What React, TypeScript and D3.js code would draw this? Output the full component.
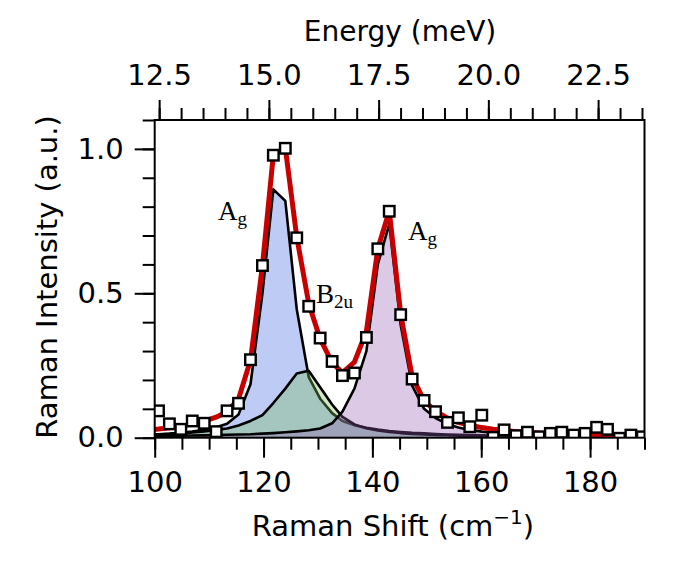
import React, { useRef, useEffect } from "react";
import * as d3 from "d3";

// measured spectrum (squares)
const ramanShift = [
  100.7, 102.7, 104.8, 106.9, 109.1, 111.3, 113.3, 115.4, 117.6, 119.8, 121.8,
  124.0, 126.1, 128.3, 130.4, 132.6, 134.5, 136.7, 138.9, 141.0, 143.1, 145.2,
  147.3, 149.5, 151.6, 153.8, 155.8, 157.9, 160.1, 162.2, 164.2, 166.4, 168.5,
  170.6, 172.7, 174.8, 177.0, 179.1, 181.2, 183.2, 185.4, 187.5, 189.6,
];
const intensity = [
  0.093, 0.048, 0.029, 0.058, 0.05, 0.021, 0.093, 0.119, 0.27, 0.596, 0.978,
  1.002, 0.692, 0.455, 0.345, 0.264, 0.215, 0.224, 0.347, 0.654, 0.784, 0.426,
  0.203, 0.129, 0.09, 0.053, 0.069, 0.038, 0.078, 0.001, 0.027, 0.007, 0.019,
  0.003, 0.015, 0.019, 0.009, 0.015, 0.036, 0.029, -0.002, 0.009, 0.003,
];

// fit grid (starts just left of the frame)
const fitShift = [
  98.6, 100.7, 102.7, 104.8, 106.9, 109.1, 111.3, 113.3, 115.4, 117.6, 119.8,
  121.8, 124.0, 126.1, 128.3, 130.4, 132.6, 134.5, 136.7, 138.9, 141.0, 143.1,
  145.2, 147.3, 149.5, 151.6, 153.8, 155.8, 157.9, 160.1, 162.2, 164.2, 166.4,
  168.5, 170.6, 172.7, 174.8, 177.0, 179.1, 181.2, 183.2, 185.4, 187.5, 189.6,
];
const fitTotal = [
  0.027, 0.03, 0.034, 0.04, 0.047, 0.057, 0.071, 0.09, 0.134, 0.268, 0.596,
  0.98, 1.004, 0.695, 0.465, 0.342, 0.26, 0.225, 0.262, 0.368, 0.655, 0.785,
  0.428, 0.212, 0.128, 0.092, 0.068, 0.053, 0.043, 0.035, 0.029, 0.025, 0.021,
  0.018, 0.016, 0.015, 0.0135, 0.012, 0.011, 0.0105, 0.01, 0.009, 0.0085, 0.008,
];
const fitAg1 = [
  0.011, 0.012, 0.014, 0.017, 0.021, 0.027, 0.036, 0.048, 0.08, 0.185, 0.5,
  0.86, 0.82, 0.445, 0.21, 0.135, 0.085, 0.058, 0.043, 0.034, 0.028, 0.023,
  0.02, 0.017, 0.015, 0.013, 0.011, 0.01, 0.009, 0.008, 0.007, 0.0065, 0.006,
  0.0055, 0.005, 0.0046, 0.0043, 0.004, 0.0037, 0.0035, 0.0033, 0.0031, 0.0029,
  0.0027,
];
const fitB2u = [
  0.01, 0.011, 0.013, 0.015, 0.018, 0.022, 0.027, 0.032, 0.042, 0.058, 0.078,
  0.12, 0.17, 0.222, 0.232, 0.175, 0.115, 0.072, 0.046, 0.033, 0.025, 0.02,
  0.016, 0.013, 0.011, 0.0095, 0.0083, 0.0073, 0.0065, 0.0058, 0.0052, 0.0047,
  0.0043, 0.0039, 0.0036, 0.0033, 0.0031, 0.0029, 0.0027, 0.0025, 0.0023,
  0.0022, 0.0021, 0.002,
];
const fitAg2 = [
  0.0055, 0.006, 0.0065, 0.007, 0.0075, 0.008, 0.009, 0.01, 0.011, 0.012,
  0.014, 0.016, 0.019, 0.022, 0.026, 0.032, 0.05, 0.09, 0.17, 0.3, 0.6, 0.74,
  0.39, 0.18, 0.1, 0.068, 0.047, 0.035, 0.027, 0.021, 0.017, 0.014, 0.012, 0.01,
  0.0085, 0.0074, 0.0065, 0.0058, 0.0052, 0.0047, 0.0043, 0.0039, 0.0036,
  0.0033,
];

const xMajor = [100, 120, 140, 160, 180];
const yMajor = [0, 0.5, 1.0];
const eMajor = [12.5, 15.0, 17.5, 20.0, 22.5];

const CM_PER_MEV = 8.0655;

const App: React.FC = () => {
  const ref = useRef<SVGSVGElement | null>(null);

  useEffect(() => {
    const svg = d3.select(ref.current);
    svg.selectAll("*").remove();

    const left = 154.7,
      right = 644.5,
      top = 120,
      bottom = 437.7;
    const font = "DejaVu Sans, sans-serif";

    const x = d3.scaleLinear().domain([100, 190]).range([left, right]);
    const y = d3.scaleLinear().domain([0, 1.1]).range([bottom, top]);
    const e = d3
      .scaleLinear()
      .domain([100 / CM_PER_MEV, 190 / CM_PER_MEV])
      .range([left, right]);

    svg
      .append("defs")
      .append("clipPath")
      .attr("id", "plot-clip")
      .append("rect")
      .attr("x", left)
      .attr("y", top)
      .attr("width", right - left)
      .attr("height", bottom - top);

    const plot = svg.append("g").attr("clip-path", "url(#plot-clip)");

    const comps = [
      { vals: fitAg1, color: "rgba(65,105,225,0.35)" },
      { vals: fitB2u, color: "rgba(120,190,90,0.35)" },
      { vals: fitAg2, color: "rgba(150,90,180,0.33)" },
    ];

    comps.forEach((c) => {
      const pts = fitShift.map((s, i) => [s, c.vals[i]] as [number, number]);
      const area = d3
        .area<[number, number]>()
        .x((d) => x(d[0]))
        .y0(y(0))
        .y1((d) => y(d[1]));
      const line = d3
        .line<[number, number]>()
        .x((d) => x(d[0]))
        .y((d) => y(d[1]));
      plot.append("path").attr("d", area(pts)).attr("fill", c.color);
      plot
        .append("path")
        .attr("d", line(pts))
        .attr("fill", "none")
        .attr("stroke", "black")
        .attr("stroke-width", 2.6)
        .attr("stroke-linejoin", "round");
    });

    const totalPts = fitShift.map((s, i) => [s, fitTotal[i]] as [number, number]);
    plot
      .append("path")
      .attr(
        "d",
        d3
          .line<[number, number]>()
          .x((d) => x(d[0]))
          .y((d) => y(d[1]))(totalPts)
      )
      .attr("fill", "none")
      .attr("stroke", "#c80000")
      .attr("stroke-width", 5)
      .attr("stroke-linejoin", "round");

    const ms = 10.5;
    plot
      .selectAll("rect.pt")
      .data(ramanShift.map((s, i) => [s, intensity[i]]))
      .enter()
      .append("rect")
      .attr("class", "pt")
      .attr("x", (d) => x(d[0]) - ms / 2)
      .attr("y", (d) => y(d[1]) - ms / 2)
      .attr("width", ms)
      .attr("height", ms)
      .attr("fill", "white")
      .attr("stroke", "black")
      .attr("stroke-width", 2.4);

    // frame
    svg
      .append("rect")
      .attr("x", left)
      .attr("y", top)
      .attr("width", right - left)
      .attr("height", bottom - top)
      .attr("fill", "none")
      .attr("stroke", "black")
      .attr("stroke-width", 2);

    const style = (g: any) => {
      g.select(".domain").remove();
      g.selectAll("line").attr("stroke", "black").attr("stroke-width", 2);
      g.selectAll("text")
        .attr("font-family", font)
        .attr("font-size", 29)
        .attr("fill", "black");
      return g;
    };

    // bottom
    svg
      .append("g")
      .attr("transform", `translate(0,${bottom})`)
      .call(d3.axisBottom(x).tickValues(d3.range(100, 191, 5)).tickSize(12).tickFormat(() => ""))
      .call(style);
    svg
      .append("g")
      .attr("transform", `translate(0,${bottom})`)
      .call(d3.axisBottom(x).tickValues(xMajor).tickSize(20).tickPadding(14).tickFormat(d3.format("d")))
      .call(style);

    // left
    svg
      .append("g")
      .attr("transform", `translate(${left},0)`)
      .call(d3.axisLeft(y).tickValues(d3.range(0, 12).map((v) => v / 10)).tickSize(12).tickFormat(() => ""))
      .call(style);
    svg
      .append("g")
      .attr("transform", `translate(${left},0)`)
      .call(d3.axisLeft(y).tickValues(yMajor).tickSize(20).tickPadding(11).tickFormat(d3.format(".1f")))
      .call(style);

    // top (energy)
    svg
      .append("g")
      .attr("transform", `translate(0,${top})`)
      .call(d3.axisTop(e).tickValues(d3.range(25, 48).map((v) => v / 2)).tickSize(12).tickFormat(() => ""))
      .call(style);
    svg
      .append("g")
      .attr("transform", `translate(0,${top})`)
      .call(d3.axisTop(e).tickValues(eMajor).tickSize(20).tickPadding(15).tickFormat(d3.format(".1f")))
      .call(style);

    // axis titles
    svg
      .append("text")
      .attr("x", 400)
      .attr("y", 41)
      .attr("text-anchor", "middle")
      .attr("font-family", font)
      .attr("font-size", 28)
      .text("Energy (meV)");

    const xl = svg
      .append("text")
      .attr("x", 393)
      .attr("y", 536)
      .attr("text-anchor", "middle")
      .attr("font-family", font)
      .attr("font-size", 29);
    xl.append("tspan").text("Raman Shift (cm");
    xl.append("tspan").attr("font-size", 20).attr("dy", -12).text("\u22121");
    xl.append("tspan").attr("dy", 12).text(")");

    svg
      .append("text")
      .attr("transform", `translate(57,277) rotate(-90)`)
      .attr("text-anchor", "middle")
      .attr("font-family", font)
      .attr("font-size", 29)
      .text("Raman Intensity (a.u.)");

    // peak labels
    const serif = "Liberation Serif, Times New Roman, serif";
    const peakLabel = (px: number, py: number, main: string, sub: string) => {
      const t = svg
        .append("text")
        .attr("x", px)
        .attr("y", py)
        .attr("font-family", serif)
        .attr("font-size", 27);
      t.append("tspan").text(main);
      t.append("tspan").attr("font-size", 19).attr("dy", 5).text(sub);
    };
    peakLabel(218, 220, "A", "g");
    peakLabel(316, 302.7, "B", "2u");
    peakLabel(408, 239.5, "A", "g");
  }, []);

  return (
    <svg
      ref={ref}
      width={675}
      height={580}
      style={{ position: "absolute", left: 0, top: 0, background: "white" }}
    />
  );
};

export default App;
